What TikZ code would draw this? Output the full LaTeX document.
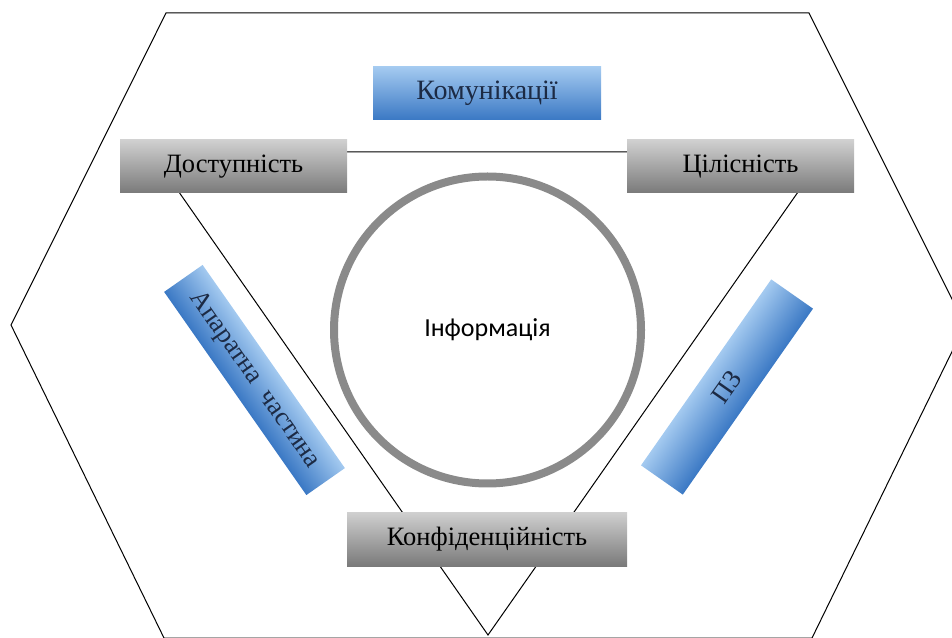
\documentclass[tikz,border=0pt]{standalone}
\usepackage{fontspec}
\setmainfont{Liberation Serif}
\newfontfamily\calib{Carlito}
\definecolor{bluetop}{HTML}{A4CAF0}
\definecolor{bluebot}{HTML}{3A78C4}
\definecolor{navytext}{HTML}{1C2A44}
\definecolor{graytop}{HTML}{D0D0D0}
\definecolor{graybot}{HTML}{7A7A7A}
\definecolor{ringgray}{HTML}{8A8A8A}
\tikzset{
  greybox/.style={rectangle, inner sep=0pt, minimum height=53pt,
    top color=graytop, bottom color=graybot, text=black,
    font=\fontsize{26.5}{30}\selectfont},
  bluebox/.style={rectangle, inner sep=0pt,
    top color=bluetop, bottom color=bluebot, text=navytext,
    font=\fontsize{26.5}{30}\selectfont},
  thinline/.style={draw=black, line width=1pt},
}
\begin{document}
\begin{tikzpicture}[x=1pt,y=1pt]
  \useasboundingbox (0,0) rectangle (952,637);
  \clip (0,0) rectangle (952,637);

  % outer hexagon
  \draw[thinline] (166,624) -- (809,624) -- (965,312) -- (812,-1)
    -- (164,-1) -- (11,312) -- cycle;

  % triangle joining the three properties
  \coordinate (tl) at (151,485);
  \coordinate (tr) at (826,485);
  \coordinate (apex) at (488,2);
  \draw[thinline] (tl) -- (tr) -- (apex) -- cycle;

  % central ring
  \node[circle, draw=ringgray, line width=8pt, minimum size=307pt,
    inner sep=0pt, font=\calib\fontsize{26}{30}\selectfont]
    (info) at (487.5,307) {Інформація};

  % properties
  \node[greybox, minimum width=227pt] (dost) at (233.5,470.5) {Доступність};
  \node[greybox, minimum width=227pt] (cil)  at (740.5,470.5) {Цілісність};
  \node[greybox, minimum width=280pt, minimum height=54pt] (konf) at (487,98) {Конфіденційність};

  % components
  \node[bluebox, minimum width=228pt, minimum height=53pt,
    font=\fontsize{28}{32}\selectfont] (kom) at (487,543.5) {Комунікації};
  % slanted boxes: canvas rotation keeps the gradient across the box
  \begin{scope}[transform canvas={shift={(254.5,257)}, rotate=-55}]
    \node[bluebox, minimum width=248pt, minimum height=47pt] (hw) at (0,0) {Апаратна\; частина};
  \end{scope}
  \begin{scope}[transform canvas={shift={(727,250)}, rotate=55}]
    \node[bluebox, minimum width=227pt, minimum height=51pt] (sw) at (0,0) {ПЗ};
  \end{scope}
\end{tikzpicture}
\end{document}
